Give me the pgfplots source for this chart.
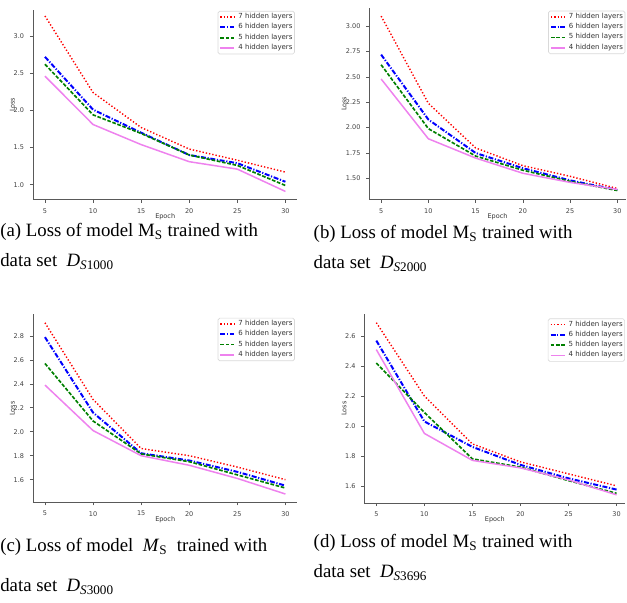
\documentclass[border=0pt]{standalone}
\usepackage{fontspec}
\setmainfont{Liberation Serif}
\newfontfamily\dejavu{DejaVu Sans}
\usepackage{pgfplots}
\pgfplotsset{compat=1.18}

\definecolor{mplred}{HTML}{FF0000}
\definecolor{mplblue}{HTML}{0000FF}
\definecolor{mplgreen}{HTML}{008000}
\definecolor{mplviolet}{HTML}{EE82EE}

\pgfplotsset{
  lossplot/.style={
    scale only axis, width=159pt, height=114pt,
    xmin=3.75, xmax=31.25,
    axis x line*=bottom, axis y line*=left,
    axis line style={-, black!65, line width=0.5pt},
    tick align=outside, major tick length=1.8pt,
    tick style={black!65, line width=0.4pt},
    xtick={5,10,...,30},
    /pgf/number format/assume math mode=true,
    ticklabel style={font=\dejavu\fontsize{3.9}{4.2}\selectfont, text=black!75},
    xlabel={Epoch}, ylabel={Loss},
    every axis x label/.style={at={(axis description cs:0.5,-0.09)}, anchor=center,
      font=\dejavu\fontsize{3.9}{4.2}\selectfont, text=black!80},
    every axis y label/.style={at={(axis description cs:-0.078,0.5)}, rotate=90, anchor=center,
      font=\dejavu\fontsize{3.9}{4.2}\selectfont, text=black!80},
    legend style={at={(0.99,0.995)}, anchor=north east, draw=black!15,
      rounded corners=1pt, fill=white,
      font=\dejavu\fontsize{4.2}{5}\selectfont, text=black!80,
      inner sep=0.9pt, row sep=0.9pt, column sep=1.5pt,
      nodes={inner sep=0.3pt}, cells={anchor=west}},
    legend image code/.code={\draw[#1] (0pt,0pt) -- (8.4pt,0pt);},
  },
  l7/.style={mplred, line width=0.85pt, dash pattern=on 0.8pt off 1.2pt},
  l6/.style={mplblue, line width=1.2pt, dash pattern=on 3pt off 1pt on 0.7pt off 1pt},
  l5/.style={mplgreen, line width=1.0pt, dash pattern=on 2.2pt off 1pt},
  l4/.style={mplviolet, line width=0.9pt},
}

\begin{document}
\begin{tikzpicture}
\path (0pt,0pt) rectangle (376.2pt,362.4pt);

% (a)
\begin{axis}[lossplot, at={(19.8pt,242.4pt)}, anchor=south west,
  ymin=0.80, ymax=3.35, ytick={1.0,1.5,...,3.0},
  yticklabel style={/pgf/number format/.cd, fixed, fixed zerofill, precision=1}]
\addplot[l7] coordinates {(5,3.27) (10,2.24) (15,1.77) (20,1.48) (25,1.33) (30,1.17)};
\addplot[l6] coordinates {(5,2.72) (10,2.01) (15,1.70) (20,1.40) (25,1.29) (30,1.04)};
\addplot[l5] coordinates {(5,2.62) (10,1.94) (15,1.69) (20,1.40) (25,1.26) (30,0.99)};
\addplot[l4] coordinates {(5,2.46) (10,1.81) (15,1.54) (20,1.31) (25,1.21) (30,0.91)};
\legend{7 hidden layers,6 hidden layers,5 hidden layers,4 hidden layers}
\end{axis}

% (b)
\begin{axis}[lossplot, at={(222pt,242.4pt)}, anchor=south west,
  width=154.2pt, height=115.2pt, xmax=30.9,
  ymin=1.29, ymax=3.18, ytick={1.5,1.75,...,3.0},
  legend style={at={(0.998,0.986)}},
  every axis y label/.style={at={(axis description cs:-0.098,0.5)}, rotate=90, anchor=center,
    font=\dejavu\fontsize{3.9}{4.2}\selectfont, text=black!80},
  yticklabel style={/pgf/number format/.cd, fixed, fixed zerofill, precision=2}]
\addplot[l7] coordinates {(5,3.10) (10,2.24) (15,1.80) (20,1.625) (25,1.52) (30,1.40)};
\addplot[l6] coordinates {(5,2.72) (10,2.08) (15,1.75) (20,1.60) (25,1.48) (30,1.385)};
\addplot[l5] coordinates {(5,2.62) (10,1.99) (15,1.72) (20,1.58) (25,1.47) (30,1.38)};
\addplot[l4] coordinates {(5,2.48) (10,1.89) (15,1.70) (20,1.55) (25,1.46) (30,1.39)};
\legend{7 hidden layers,6 hidden layers,5 hidden layers,4 hidden layers}
\end{axis}

% (c)
\begin{axis}[lossplot, at={(19.8pt,60.4pt)}, anchor=south west,
  height=113pt,
  ymin=1.41, ymax=2.98, ytick={1.6,1.8,...,2.8},
  legend style={at={(0.99,0.982)}},
  yticklabel style={/pgf/number format/.cd, fixed, fixed zerofill, precision=1}]
\addplot[l7] coordinates {(5,2.91) (10,2.27) (15,1.86) (20,1.80) (25,1.705) (30,1.60)};
\addplot[l6] coordinates {(5,2.79) (10,2.16) (15,1.82) (20,1.76) (25,1.665) (30,1.55)};
\addplot[l5] coordinates {(5,2.57) (10,2.09) (15,1.815) (20,1.75) (25,1.64) (30,1.53)};
\addplot[l4] coordinates {(5,2.39) (10,2.01) (15,1.80) (20,1.72) (25,1.61) (30,1.48)};
\legend{7 hidden layers,6 hidden layers,5 hidden layers,4 hidden layers}
\end{axis}

% (d)
\begin{axis}[lossplot, at={(219pt,60pt)}, anchor=south west,
  width=157pt, height=113.4pt, xmax=30.93,
  ymin=1.485, ymax=2.745, ytick={1.6,1.8,...,2.6},
  legend style={at={(0.998,0.979)}},
  yticklabel style={/pgf/number format/.cd, fixed, fixed zerofill, precision=1}]
\addplot[l7] coordinates {(5,2.69) (10,2.20) (15,1.88) (20,1.76) (25,1.68) (30,1.60)};
\addplot[l6] coordinates {(5,2.57) (10,2.03) (15,1.86) (20,1.74) (25,1.65) (30,1.575)};
\addplot[l5] coordinates {(5,2.42) (10,2.09) (15,1.78) (20,1.725) (25,1.635) (30,1.55)};
\addplot[l4] coordinates {(5,2.51) (10,1.95) (15,1.77) (20,1.72) (25,1.64) (30,1.54)};
\legend{7 hidden layers,6 hidden layers,5 hidden layers,4 hidden layers}
\end{axis}

% captions
\begin{scope}[every node/.style={anchor=base west, inner sep=0pt, font=\fontsize{11.3}{13}\selectfont}]
\node at (0pt,220.2pt) {(a) Loss of model M\textsubscript{S} trained with};
\node at (0pt,202.2pt) {data set\ \ \textit{D}\textsubscript{\textit{S}1000}};
\node at (188.4pt,219pt) {(b) Loss of model M\textsubscript{S} trained with};
\node at (188.4pt,201pt) {data set\ \ \textit{D}\textsubscript{\textit{S}2000}};
\node at (0pt,30.6pt) {(c) Loss of model\ \ \textit{M}\textsubscript{S}\ \ trained with};
\node at (0pt,6.6pt) {data set\ \ \textit{D}\textsubscript{\textit{S}3000}};
\node at (188.4pt,33pt) {(d) Loss of model M\textsubscript{S} trained with};
\node at (188.4pt,15pt) {data set\ \ \textit{D}\textsubscript{\textit{S}3696}};
\end{scope}
\end{tikzpicture}
\end{document}
